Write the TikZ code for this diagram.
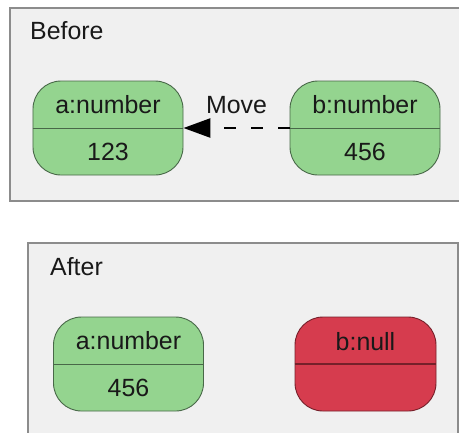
\documentclass[tikz,border=0pt]{standalone}
\usepackage{fontspec}
\setmainfont{Liberation Sans}
\usetikzlibrary{arrows.meta}

\definecolor{panelgray}{RGB}{240,240,240}
\definecolor{panelline}{RGB}{140,140,140}
\definecolor{okgreen}{RGB}{148,212,143}
\definecolor{okline}{RGB}{72,104,72}
\definecolor{nullred}{RGB}{214,60,78}
\definecolor{nullline}{RGB}{118,32,42}

\tikzset{
  panel/.style={draw=panelline, fill=panelgray, line width=1.4bp},
  var/.style={draw, rounded corners=28bp, minimum width=150bp, minimum height=94bp, line width=0.9bp},
  txt/.style={inner sep=0pt, text=black!90, font=\fontsize{25}{30}\selectfont},
  move/.style={line width=2.6bp, dash pattern=on 12bp off 15bp, -{Triangle[length=27bp,width=19bp]}}
}

\begin{document}
\begin{tikzpicture}[x=1bp, y=-1bp]
            \clip (0,0) rectangle (459,432);
            \fill[white] (0,0) rectangle (459,432);

            % Before
            \draw[panel] (10,8) rectangle (480,201);
            \node[txt, anchor=base west] (before) at (30,39) {Before};

            \node[var, fill=okgreen, draw=okline] (a1) at (108,128) {};
            \draw[okline, line width=0.9bp] (a1.west) -- (a1.east);
            \node[txt] (a1name) at ([yshift=23.5bp]a1.center) {a:number};
            \node[txt] (a1val) at ([yshift=-23.5bp]a1.center) {123};

            \node[var, fill=okgreen, draw=okline] (b1) at (365,128) {};
            \draw[okline, line width=0.9bp] (b1.west) -- (b1.east);
            \node[txt] (b1name) at ([yshift=23.5bp]b1.center) {b:number};
            \node[txt] (b1val) at ([yshift=-23.5bp]b1.center) {456};

            % Move arrow
            \draw[move] (b1.west) -- node[txt, above=13bp] (mv) {Move} (a1.east);

            % After
            \draw[panel] (28,243) rectangle (458,460);
            \node[txt, anchor=base west] (after) at (50,275) {After};

            \node[var, fill=okgreen, draw=okline] (a2) at (128.5,364) {};
            \draw[okline, line width=0.9bp] (a2.west) -- (a2.east);
            \node[txt] (a2name) at ([yshift=23.5bp]a2.center) {a:number};
            \node[txt] (a2val) at ([yshift=-23.5bp]a2.center) {456};

            \node[var, fill=nullred, draw=nullline, minimum width=141bp] (b2) at (365.5,364) {};
            \draw[nullline, line width=1.2bp] (b2.west) -- (b2.east);
            \node[txt] (b2name) at ([yshift=22bp]b2.center) {b:null};
\end{tikzpicture}
\end{document}
